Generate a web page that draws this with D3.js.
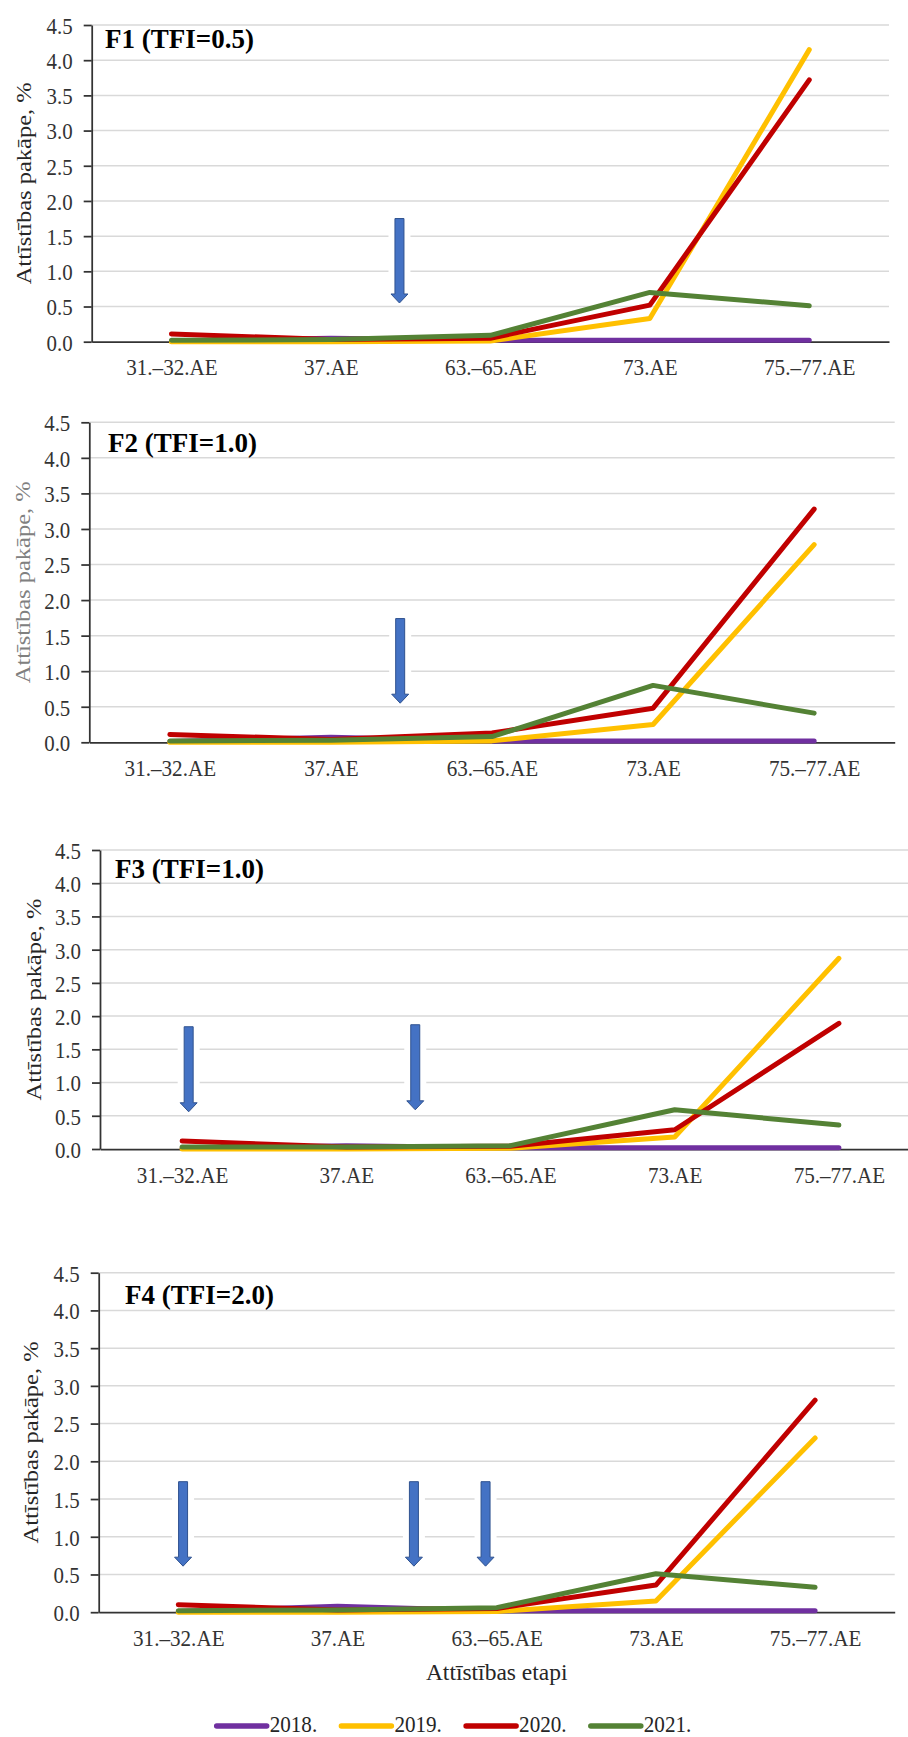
<!DOCTYPE html>
<html>
<head>
<meta charset="utf-8">
<script src="https://cdn.jsdelivr.net/npm/d3@7"></script>
<style>
  html, body { margin: 0; padding: 0; background: #fff; }
  svg { display: block; }
  svg text { font-family: "Liberation Serif", "Times New Roman", serif; }
</style>
</head>
<body>
<svg id="chart" width="908" height="1737"></svg>
<script>
// Development stages on the x axis and the observation years
const stages = ["31.–32.AE", "37.AE", "63.–65.AE", "73.AE", "75.–77.AE"];
const years = ["2018.", "2019.", "2020.", "2021."];
const yearColors = ["#7030A0", "#FFC000", "#C00000", "#548235"];
const yTicks = [0, 0.5, 1.0, 1.5, 2.0, 2.5, 3.0, 3.5, 4.0, 4.5];
const panelTitles = ["F1 (TFI=0.5)", "F2 (TFI=1.0)", "F3 (TFI=1.0)", "F4 (TFI=2.0)"];
const yTitle = "Attīstības pakāpe, %";
const xTitle = "Attīstības etapi";

// Development degree, %, one row per year (2018, 2019, 2020, 2021)
const f1Series = [
  [0.01, 0.05, 0.02, 0.02, 0.02],
  [0.00, 0.00, 0.01, 0.33, 4.15],
  [0.11, 0.03, 0.05, 0.52, 3.72],
  [0.02, 0.03, 0.09, 0.70, 0.51]
];
const f2Series = [
  [0.01, 0.07, 0.02, 0.02, 0.02],
  [0.00, 0.00, 0.02, 0.25, 2.78],
  [0.11, 0.04, 0.13, 0.48, 3.28],
  [0.02, 0.03, 0.08, 0.80, 0.41]
];
const f3Series = [
  [0.01, 0.05, 0.02, 0.02, 0.02],
  [0.00, 0.00, 0.01, 0.18, 2.87],
  [0.12, 0.03, 0.04, 0.29, 1.89],
  [0.03, 0.03, 0.05, 0.59, 0.36]
];
const f4Series = [
  [0.01, 0.08, 0.02, 0.02, 0.02],
  [0.00, 0.00, 0.01, 0.15, 2.31],
  [0.10, 0.03, 0.05, 0.36, 2.81],
  [0.02, 0.03, 0.06, 0.51, 0.33]
];

// Treatment markers: [position in stage steps, top value, tip value]
const f1Arrows = [[1.43, 1.75, 0.55]];
const f2Arrows = [[1.43, 1.74, 0.55]];
const f3Arrows = [[0.04, 1.84, 0.56], [1.42, 1.87, 0.59]];
const f4Arrows = [[0.03, 1.73, 0.61], [1.48, 1.73, 0.61], [1.93, 1.73, 0.61]];

const panelSeries = [f1Series, f2Series, f3Series, f4Series];
const panelArrows = [f1Arrows, f2Arrows, f3Arrows, f4Arrows];

// Frame of each panel on the page
const frames = [
  { left: 91.7, right: 889,   top: 25,     bottom: 341.7,  titleX: 105, titleY: 48,    yTitleX: 24,   yTitleColor: "#262626" },
  { left: 89.3, right: 894.7, top: 422.3,  bottom: 742.3,  titleX: 108, titleY: 451.7, yTitleX: 22.5, yTitleColor: "#808080" },
  { left: 100,  right: 921,   top: 850,    bottom: 1149,   titleX: 115, titleY: 878,   yTitleX: 34,   yTitleColor: "#262626" },
  { left: 98.7, right: 894.7, top: 1272.7, bottom: 1612.2, titleX: 125, titleY: 1304,  yTitleX: 31,   yTitleColor: "#262626" }
];

const serif = '"Liberation Serif", "Times New Roman", serif';
const svg = d3.select("#chart");
const textSquash = 0.87;

frames.forEach((f, p) => {
  const g = svg.append("g");
  const x = d3.scalePoint().domain(stages).range([f.left, f.right]).padding(0.5);
  const y = d3.scaleLinear().domain([0, 4.5]).range([f.bottom, f.top]);

  // horizontal gridlines
  g.append("g").selectAll("line")
    .data(yTicks.filter(t => t > 0))
    .join("line")
    .attr("x1", f.left).attr("x2", f.right)
    .attr("y1", d => y(d)).attr("y2", d => y(d))
    .attr("stroke", "#d9d9d9").attr("stroke-width", 1.5);

  // treatment arrows with a white halo over the gridlines
  const arrows = g.append("g");
  panelArrows[p].forEach(([pos, topV, tipV]) => {
    const cx = x(stages[0]) + pos * x.step();
    const yt = y(topV), yb = y(tipV);
    arrows.append("rect")
      .attr("x", cx - 11).attr("y", yt - 1)
      .attr("width", 22).attr("height", yb - yt + 1)
      .attr("fill", "#fff");
    const sw = 4.5, hw = 8.5, hl = 9;
    arrows.append("path")
      .attr("d", `M${cx - sw},${yt} L${cx + sw},${yt} L${cx + sw},${yb - hl} L${cx + hw},${yb - hl} L${cx},${yb} L${cx - hw},${yb - hl} L${cx - sw},${yb - hl} Z`)
      .attr("fill", "#4472C4").attr("stroke", "#2F528F").attr("stroke-width", 1);
  });

  // y axis
  const ya = g.append("g")
    .attr("transform", `translate(${f.left},0)`)
    .call(d3.axisLeft(y).tickValues(yTicks).tickSize(8).tickSizeOuter(0).tickFormat(d3.format(".1f")));
  ya.attr("font-family", serif);
  ya.select(".domain").attr("stroke", "#333").attr("stroke-width", 1.75);
  ya.selectAll(".tick line").attr("stroke", "#333").attr("stroke-width", 1.75);
  ya.selectAll(".tick text")
    .attr("x", 0).attr("dy", "0.35em")
    .attr("transform", `translate(-19,0) scale(${textSquash},1)`)
    .style("font-family", serif)
    .attr("font-size", 24).attr("fill", "#333");

  // x axis
  const xa = g.append("g")
    .attr("transform", `translate(0,${f.bottom})`)
    .call(d3.axisBottom(x).tickSize(0).tickSizeOuter(0));
  xa.attr("font-family", serif);
  xa.select(".domain").attr("stroke", "#333").attr("stroke-width", 1.75);
  xa.selectAll(".tick text")
    .attr("y", 0).attr("dy", 0)
    .attr("transform", `translate(0,33.5) scale(0.88,1)`)
    .style("font-family", serif)
    .attr("font-size", 24).attr("fill", "#333");

  // series lines
  const line = d3.line().x((d, i) => x(stages[i])).y(d => y(d));
  g.append("g").selectAll("path")
    .data(panelSeries[p])
    .join("path")
    .attr("d", line)
    .attr("fill", "none")
    .attr("stroke", (d, i) => yearColors[i])
    .attr("stroke-width", 5)
    .attr("stroke-linecap", "round")
    .attr("stroke-linejoin", "round");

  // panel title
  g.append("text")
    .attr("x", f.titleX).attr("y", f.titleY)
    .attr("font-size", 27).attr("font-weight", "bold").attr("fill", "#000")
    .text(panelTitles[p]);

  // y axis title
  g.append("text")
    .attr("transform", `translate(${f.yTitleX},${(f.top + f.bottom) / 2}) scale(${textSquash},1) rotate(-90)`)
    .attr("text-anchor", "middle").attr("dy", "0.35em")
    .attr("font-size", 24.5).attr("fill", f.yTitleColor)
    .text(yTitle);

  // x axis title under the last panel
  if (p === frames.length - 1) {
    g.append("text")
      .attr("x", (f.left + f.right) / 2).attr("y", 1680)
      .attr("text-anchor", "middle")
      .attr("font-size", 23.5).attr("fill", "#262626")
      .text(xTitle);
  }
});

// legend
const legend = svg.append("g").attr("transform", "translate(216.7,1726)");
years.forEach((yr, i) => {
  const item = legend.append("g").attr("transform", `translate(${i * 124.7},0)`);
  item.append("line")
    .attr("x1", 0).attr("x2", 50).attr("y1", 0).attr("y2", 0)
    .attr("stroke", yearColors[i]).attr("stroke-width", 5.5).attr("stroke-linecap", "round");
  item.append("text")
    .attr("transform", `translate(53,6) scale(0.88,1)`)
    .attr("font-size", 24).attr("fill", "#262626")
    .text(yr);
});
</script>
</body>
</html>
